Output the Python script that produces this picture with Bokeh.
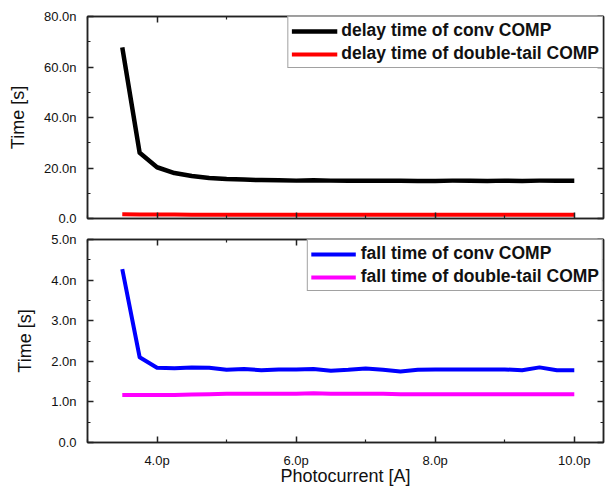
from bokeh.plotting import figure
from bokeh.layouts import column
from bokeh.models import (Range1d, LinearAxis, FixedTicker, CustomJSTickFormatter,
                          Legend, LegendItem)
from bokeh.embed import file_html
from bokeh.resources import INLINE

# ---- data (x in pA, y in ns) ----
photocurrent_pA = [3.5, 3.75, 4.0, 4.25, 4.5, 4.75, 5.0, 5.25, 5.5, 5.75, 6.0, 6.25, 6.5, 6.75,
                   7.0, 7.25, 7.5, 7.75, 8.0, 8.25, 8.5, 8.75, 9.0, 9.25, 9.5, 9.75, 10.0]
delay_conv_ns = [67.8, 26.0, 20.3, 18.0, 16.8, 16.0, 15.6, 15.4, 15.2, 15.1, 15.0, 15.1, 15.0, 15.0,
                 15.0, 15.0, 15.0, 14.9, 14.9, 15.0, 15.0, 14.9, 15.0, 14.9, 15.0, 15.0, 15.0]
delay_dt_ns = [1.7, 1.6, 1.6, 1.6, 1.5, 1.5, 1.5, 1.5, 1.5, 1.5, 1.5, 1.5, 1.5, 1.5,
               1.5, 1.5, 1.5, 1.5, 1.5, 1.5, 1.5, 1.5, 1.5, 1.5, 1.5, 1.5, 1.5]
fall_conv_ns = [4.27, 2.10, 1.84, 1.83, 1.85, 1.84, 1.79, 1.81, 1.78, 1.80, 1.80, 1.81, 1.77, 1.79,
                1.82, 1.79, 1.75, 1.79, 1.80, 1.80, 1.80, 1.80, 1.80, 1.78, 1.85, 1.78, 1.78]
fall_dt_ns = [1.17, 1.17, 1.17, 1.17, 1.18, 1.19, 1.20, 1.20, 1.20, 1.20, 1.20, 1.21, 1.20, 1.20,
              1.20, 1.20, 1.19, 1.19, 1.19, 1.19, 1.19, 1.19, 1.19, 1.19, 1.19, 1.19, 1.19]

x_major = [4, 6, 8, 10]
x_minor = [3, 5, 7, 9]
top_y_major = [0, 20, 40, 60, 80]
top_y_minor = [10, 30, 50, 70]
bot_y_major = [0, 1, 2, 3, 4, 5]
bot_y_minor = [0.5, 1.5, 2.5, 3.5, 4.5]

FONT = "Liberation Sans"
AX = "#222222"

x_fmt = "return tick.toFixed(1) + 'p';"
y_fmt = "return tick == 0 ? '0.0' : tick.toFixed(1) + 'n';"
blank = "return '';"


def style_axis(ax, major, minor, code, standoff):
    ax.ticker = FixedTicker(ticks=major, minor_ticks=minor)
    ax.formatter = CustomJSTickFormatter(code=code)
    ax.major_tick_in = 6
    ax.major_tick_out = 0
    ax.minor_tick_in = 3
    ax.minor_tick_out = 0
    ax.axis_line_color = AX
    ax.axis_line_width = 1.5
    ax.major_tick_line_color = AX
    ax.major_tick_line_width = 1.5
    ax.minor_tick_line_color = AX
    ax.minor_tick_line_width = 1.2
    ax.major_label_text_font = FONT
    ax.major_label_text_font_size = "13px"
    ax.major_label_text_color = "#111111"
    ax.major_label_standoff = standoff
    ax.axis_label_text_font = FONT
    ax.axis_label_text_font_size = "18px"
    ax.axis_label_text_font_style = "normal"
    ax.axis_label_text_color = "#111111"


def make_panel(ymax, y_major, y_minor, height, top_border, bottom_border, show_x_labels):
    p = figure(width=605, height=height,
               x_range=Range1d(3.0, 10.42), y_range=Range1d(0, ymax),
               x_axis_type=None, y_axis_type=None,
               output_backend="svg", toolbar_location=None,
               min_border_left=87, min_border_right=2,
               min_border_top=top_border, min_border_bottom=bottom_border)
    p.outline_line_color = AX
    p.outline_line_width = 1.5
    p.background_fill_color = "white"
    p.border_fill_color = "white"

    bottom_ax = LinearAxis()
    style_axis(bottom_ax, x_major, x_minor, x_fmt if show_x_labels else blank,
               10 if show_x_labels else 0)
    p.add_layout(bottom_ax, "below")
    left_ax = LinearAxis()
    style_axis(left_ax, y_major, y_minor, y_fmt, 11)
    left_ax.axis_label = "Time [s]"
    left_ax.axis_label_standoff = 13
    p.add_layout(left_ax, "left")
    top_ax = LinearAxis()
    style_axis(top_ax, x_major, x_minor, blank, 0)
    p.add_layout(top_ax, "above")
    right_ax = LinearAxis()
    style_axis(right_ax, y_major, y_minor, blank, 0)
    p.add_layout(right_ax, "right")

    p.xgrid.ticker = FixedTicker(ticks=x_major)
    p.ygrid.ticker = FixedTicker(ticks=y_major)
    for g in (p.xgrid, p.ygrid):
        g.grid_line_color = "#a8a8a8"
        g.grid_line_dash = "3 3"
        g.grid_line_width = 1
    return p, bottom_ax


def style_legend(leg, glyph_w, standoff, pad):
    leg.location = "top_right"
    leg.margin = 0
    leg.padding = pad
    leg.spacing = 2
    leg.glyph_width = glyph_w
    leg.glyph_height = 20
    leg.label_height = 20
    leg.label_standoff = standoff
    leg.label_text_font = FONT
    leg.label_text_font_style = "bold"
    leg.label_text_font_size = "17.5px"
    leg.label_text_color = "#111111"
    leg.border_line_color = "#444444"
    leg.border_line_width = 1
    leg.background_fill_color = "white"
    leg.background_fill_alpha = 1.0


# ---- top panel: delay time ----
top, _ = make_panel(80, top_y_major, top_y_minor, 228, 16, 10, False)
r1 = top.line(photocurrent_pA, delay_conv_ns, line_color="black", line_width=4.5, line_join="round")
r2 = top.line(photocurrent_pA, delay_dt_ns, line_color="#ff0000", line_width=4, line_join="round")
leg1 = Legend(items=[LegendItem(label="delay time of conv COMP", renderers=[r1]),
                     LegendItem(label="delay time of double-tail COMP", renderers=[r2])])
style_legend(leg1, 46, 4, 3)
top.add_layout(leg1)

# ---- bottom panel: fall time ----
bot, bot_x = make_panel(5, bot_y_major, bot_y_minor, 260, 11, 45, True)
bot_x.axis_label = "Photocurrent [A]"
bot_x.axis_label_standoff = -5
r3 = bot.line(photocurrent_pA, fall_conv_ns, line_color="#0000ff", line_width=4, line_join="round")
r4 = bot.line(photocurrent_pA, fall_dt_ns, line_color="#ff00ff", line_width=4, line_join="round")
leg2 = Legend(items=[LegendItem(label="fall time of conv COMP", renderers=[r3]),
                     LegendItem(label="fall time of double-tail COMP", renderers=[r4])])
style_legend(leg2, 45, 5, 3)
bot.add_layout(leg2)

layout = column(top, bot, spacing=0)
open("out.html", "w").write(file_html(layout, INLINE))
